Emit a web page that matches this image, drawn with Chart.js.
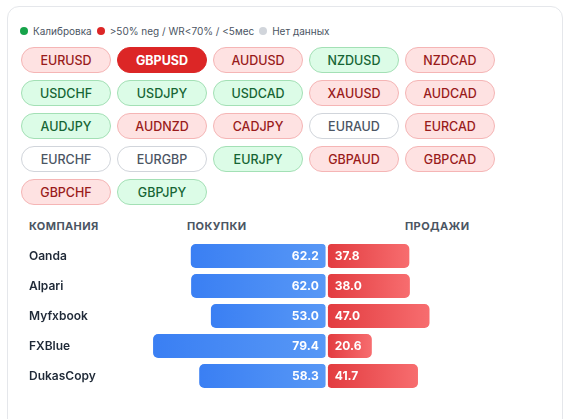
<!DOCTYPE html>
<html>
<head>
<meta charset="utf-8">
<script src="https://cdn.jsdelivr.net/npm/chart.js@4.4.1/dist/chart.umd.min.js"></script>
<style>
  body { margin: 0; background: #fff; font-family: Inter, "Noto Sans", sans-serif; }
  .card { position: absolute; left: 7px; top: 6px; width: 554px; height: 440px;
          border: 1px solid #e5e7eb; border-radius: 12px; background: #fff; }
  .legend { position: absolute; left: 20px; top: 24px; height: 14px; display: flex; align-items: center;
            font-size: 10px; color: #4b5563; white-space: nowrap; }
  .legend .dot { width: 8px; height: 8px; border-radius: 50%; margin-right: 5px; }
  .legend .item { display: flex; align-items: center; margin-right: 5px; }
  .pills { position: absolute; left: 21px; top: 47px; display: grid;
           grid-template-columns: repeat(5, 90px); column-gap: 6px; row-gap: 7px; }
  .pill { height: 26px; box-sizing: border-box; border-radius: 13px; border: 1px solid;
          display: flex; align-items: center; justify-content: center;
          font-size: 12.5px; font-weight: 500; }
  .pill.red { background: #fee2e2; border-color: #f5b5b5; color: #991b1b; }
  .pill.green { background: #dcfce7; border-color: #a3e0b5; color: #166534; }
  .pill.none { background: #fff; border-color: #d1d5db; color: #4b5563; }
  .pill.active { background: #dc2626; border-color: #dc2626; color: #fff; font-weight: 700; }
  .head { position: absolute; top: 219px; font-size: 11px; font-weight: 700; color: #4b5563;
          letter-spacing: 0.4px; line-height: 14px; }
  .wrap { position: absolute; left: 29px; top: 241px; width: 526px; height: 150px; }
</style>
</head>
<body>
<div class="card"></div>
<div class="legend">
  <div class="item"><span class="dot" style="background:#16a34a"></span>Калибровка</div>
  <div class="item"><span class="dot" style="background:#dc2626"></span>&gt;50% neg / WR&lt;70% / &lt;5мес</div>
  <div class="item"><span class="dot" style="background:#d1d5db"></span>Нет данных</div>
</div>
<div class="pills" id="pills"></div>
<div class="head" style="left:29px">КОМПАНИЯ</div>
<div class="head" style="left:187px">ПОКУПКИ</div>
<div class="head" style="left:405px">ПРОДАЖИ</div>
<div class="wrap"><canvas id="flowChart"></canvas></div>

<script>
// Pairs and their status
const pairs = ['EURUSD','GBPUSD','AUDUSD','NZDUSD','NZDCAD',
               'USDCHF','USDJPY','USDCAD','XAUUSD','AUDCAD',
               'AUDJPY','AUDNZD','CADJPY','EURAUD','EURCAD',
               'EURCHF','EURGBP','EURJPY','GBPAUD','GBPCAD',
               'GBPCHF','GBPJPY'];
const pairStatus = ['red','active','red','green','red',
                    'green','green','green','red','red',
                    'green','red','red','none','red',
                    'none','none','green','red','red',
                    'red','green'];

// Sentiment by broker
const companies = ['Oanda', 'Alpari', 'Myfxbook', 'FXBlue', 'DukasCopy'];
const buys = [62.2, 62.0, 53.0, 79.4, 58.3];
const sells = [37.8, 38.0, 47.0, 20.6, 41.7];

const box = document.getElementById('pills');
pairs.forEach((p, i) => {
    const el = document.createElement('div');
    el.className = 'pill ' + pairStatus[i];
    el.textContent = p;
    box.appendChild(el);
});

function barGradient(ctx, from, to, c1, c2) {
    const chart = ctx.chart;
    if (!chart.chartArea) return c1;
    const x = chart.scales.x;
    const g = chart.ctx.createLinearGradient(x.getPixelForValue(from), 0, x.getPixelForValue(to), 0);
    g.addColorStop(0, c1);
    g.addColorStop(1, c2);
    return g;
}

// white value labels inside the bars
const valueLabels = {
    id: 'valueLabels',
    afterDatasetsDraw(chart) {
        const c = chart.ctx;
        c.save();
        c.font = '700 12px Inter, sans-serif';
        c.fillStyle = '#fff';
        c.textBaseline = 'middle';
        chart.getDatasetMeta(0).data.forEach((bar, i) => {
            c.textAlign = 'right';
            c.fillText(buys[i].toFixed(1), bar.base - 8, bar.y + 0.5);
        });
        chart.getDatasetMeta(1).data.forEach((bar, i) => {
            c.textAlign = 'left';
            c.fillText(sells[i].toFixed(1), bar.base + 8, bar.y + 0.5);
        });
        c.restore();
    }
};

new Chart(document.getElementById('flowChart'), {
    type: 'bar',
    data: {
        labels: companies,
        datasets: [{
            label: 'Покупки',
            data: buys.map(v => -v),
            backgroundColor: ctx => barGradient(ctx, -buys[ctx.dataIndex], 0, '#3a7ff3', '#5898f6'),
            borderColor: '#fff',
            borderWidth: { right: 1.5 },
            borderRadius: 5,
            borderSkipped: false,
            barThickness: 24
        }, {
            label: 'Продажи',
            data: sells,
            backgroundColor: ctx => barGradient(ctx, 0, sells[ctx.dataIndex], '#e23b3f', '#f76d6f'),
            borderColor: '#fff',
            borderWidth: { left: 1.5 },
            borderRadius: 5,
            borderSkipped: false,
            barThickness: 24
        }]
    },
    options: {
        indexAxis: 'y',
        responsive: true,
        maintainAspectRatio: false,
        animation: false,
        layout: { padding: { right: 9.5 } },
        scales: {
            x: { stacked: true, min: -100, max: 100, display: false },
            y: {
                stacked: true,
                grid: { display: false },
                border: { display: false },
                afterFit: s => { s.width = 79; s.paddingTop = 0; s.paddingBottom = 0; },
                ticks: {
                    crossAlign: 'far',
                    padding: 0,
                    color: '#1f2937',
                    font: { family: 'Inter', weight: '600', size: 12 }
                }
            }
        },
        plugins: {
            legend: { display: false },
            tooltip: { enabled: false }
        }
    },
    plugins: [valueLabels]
});
</script>
</body>
</html>
